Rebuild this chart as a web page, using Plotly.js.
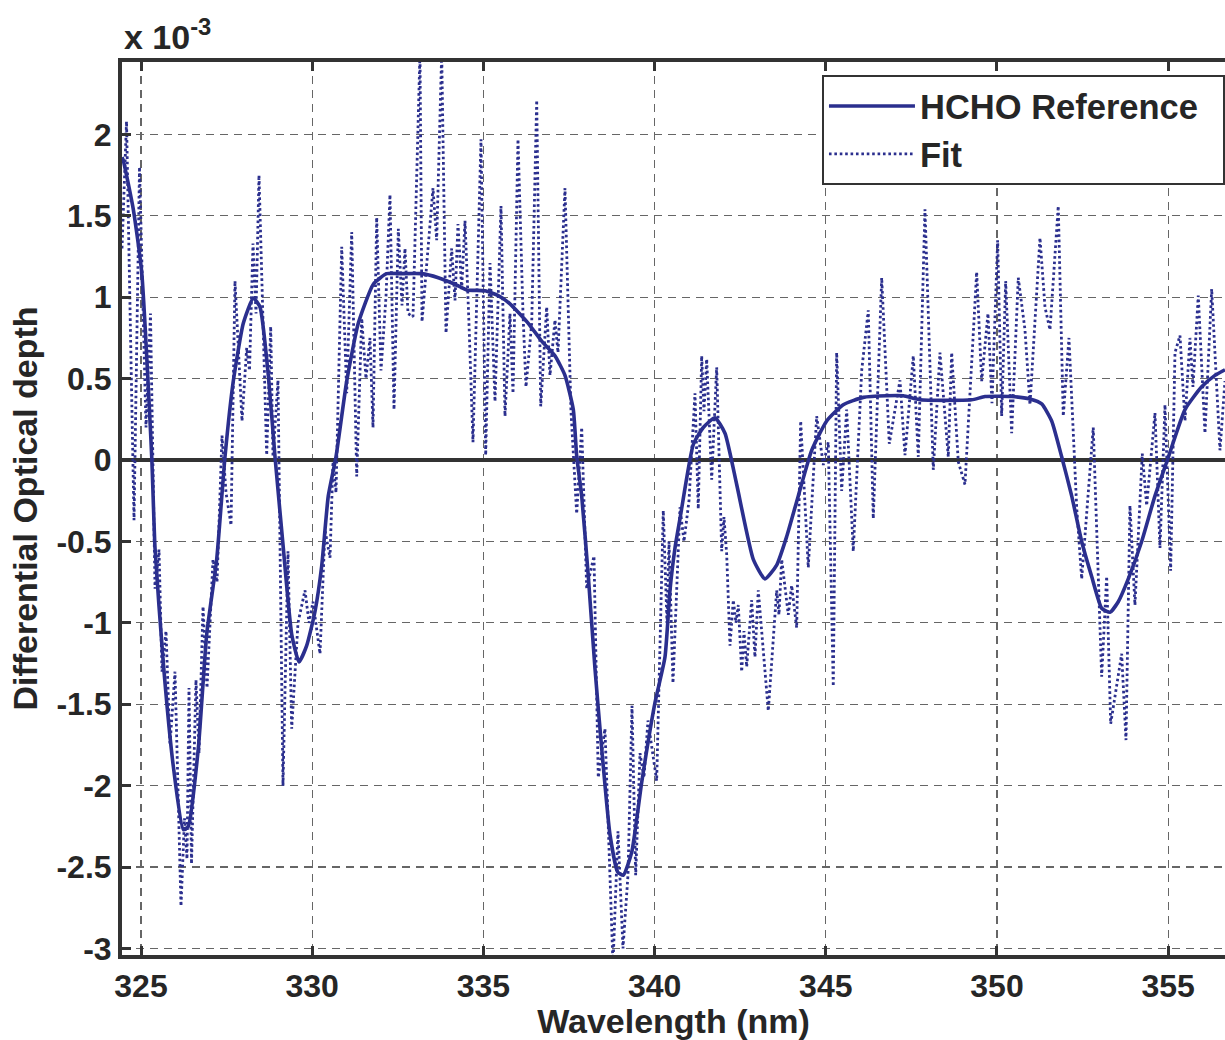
<!DOCTYPE html>
<html>
<head>
<meta charset="utf-8">
<script src="https://cdn.plot.ly/plotly-3.0.1.min.js"></script>
<style>html,body{margin:0;padding:0;background:#fff;}#chart{width:1225px;height:1040px;}</style>
</head>
<body>
<div id="chart"></div>
<script>
// Wavelength (nm) and differential optical depth (units of 1e-3)
const wavelengthRef = [324.445,324.483,324.775,325.020,325.313,325.409,325.651,325.943,326.235,326.381,326.674,326.919,327.211,327.453,327.696,327.988,328.280,328.476,328.718,328.914,329.156,329.401,329.615,329.839,330.082,330.278,330.470,330.695,331.008,331.346,331.785,332.176,332.564,333.198,333.683,334.171,334.512,335.047,335.435,335.777,336.311,336.703,337.091,337.383,337.626,337.725,337.871,338.064,338.259,338.455,338.697,338.922,339.086,339.331,339.623,340.012,340.304,340.450,340.596,340.742,341.130,341.422,341.764,342.056,342.398,342.883,343.224,343.566,343.858,344.197,344.588,345.026,345.511,346.095,346.779,347.263,347.751,349.261,349.650,350.429,350.964,351.306,351.598,351.890,352.182,352.474,352.766,353.058,353.300,353.543,353.835,354.226,354.615,354.985,355.491,355.979,356.367,356.659];
const odRef = [1.86,1.84,1.54,1.155,0.02,-0.54,-1.245,-1.88,-2.27,-2.25,-1.77,-1.07,-0.61,0.02,0.485,0.84,0.995,0.94,0.52,0.02,-0.54,-1.07,-1.24,-1.14,-0.93,-0.65,-0.22,0.02,0.485,0.84,1.08,1.145,1.145,1.145,1.12,1.08,1.045,1.04,1.01,0.96,0.84,0.73,0.64,0.52,0.31,0.025,-0.22,-0.715,-1.28,-1.77,-2.30,-2.53,-2.55,-2.41,-1.98,-1.49,-1.21,-0.80,-0.54,-0.36,0.095,0.20,0.26,0.165,-0.15,-0.61,-0.73,-0.645,-0.47,-0.22,0.06,0.24,0.34,0.385,0.395,0.395,0.37,0.37,0.39,0.39,0.375,0.345,0.24,0.02,-0.22,-0.50,-0.715,-0.91,-0.935,-0.87,-0.73,-0.50,-0.22,0.005,0.31,0.45,0.52,0.555];

const wavelengthFit = [324.445,324.577,324.796,324.956,325.146,325.277,325.409,325.526,325.613,325.730,325.847,325.993,326.168,326.270,326.343,326.402,326.475,326.606,326.694,326.811,326.928,327.103,327.220,327.366,327.483,327.629,327.745,327.950,328.087,328.169,328.271,328.359,328.446,328.671,328.788,328.855,329.001,329.147,329.293,329.401,329.585,329.790,329.907,330.023,330.228,330.374,330.520,330.608,330.695,330.862,331.008,331.154,331.300,331.446,331.571,331.688,331.776,331.884,332.009,332.155,332.272,332.389,332.515,332.623,332.710,332.798,332.944,333.148,333.207,333.382,333.528,333.636,333.782,333.908,334.074,334.171,334.258,334.366,334.463,334.579,334.696,334.930,335.067,335.193,335.339,335.514,335.631,335.777,335.865,336.011,336.157,336.244,336.411,336.557,336.674,336.849,336.945,337.091,337.179,337.383,337.558,337.725,337.871,338.017,338.230,338.355,338.551,338.785,338.931,339.077,339.223,339.340,339.448,339.574,339.690,339.807,340.061,340.254,340.362,340.421,340.537,340.742,340.859,341.005,341.180,341.276,341.376,341.443,341.522,341.668,341.814,341.960,342.027,342.106,342.202,342.299,342.377,342.445,342.544,342.611,342.690,342.836,342.932,343.029,343.321,343.566,343.633,343.712,343.905,344.004,344.150,344.267,344.489,344.734,344.927,345.073,345.219,345.318,345.464,345.610,345.803,346.049,346.241,346.387,346.633,346.855,347.167,347.313,347.556,347.702,347.897,348.140,348.335,348.578,348.677,348.870,349.065,349.407,349.553,349.737,349.854,350.020,350.137,350.254,350.429,350.622,350.818,350.964,351.256,351.402,351.548,351.790,351.936,352.103,352.228,352.328,352.474,352.620,352.812,353.058,353.204,353.321,353.446,353.642,353.768,353.884,354.030,354.244,354.372,354.615,354.761,354.907,355.073,355.199,355.345,355.491,355.637,355.724,355.879,356.075,356.271,356.513,356.659];
const odFit = [1.30,2.08,-0.37,1.80,0.20,0.90,-0.79,-0.55,-1.30,-1.05,-1.75,-1.30,-2.74,-2.20,-2.45,-1.40,-2.48,-1.35,-1.80,-0.90,-1.40,-0.61,-0.75,0.15,-0.20,-0.40,1.10,0.24,0.69,0.55,1.33,0.90,1.75,0.03,0.82,0.02,0.49,-2.00,-0.56,-1.65,-1.00,-0.80,-1.00,-0.87,-1.19,-0.43,-0.60,-0.01,-0.20,1.31,0.41,1.40,-0.10,0.87,0.50,0.75,0.20,1.49,0.55,1.00,1.63,0.31,1.42,0.95,1.30,0.90,0.88,2.50,0.85,1.30,1.67,1.35,2.50,0.78,1.30,0.98,1.45,1.05,1.47,0.84,0.11,1.97,0.03,1.21,0.36,1.56,0.27,0.90,0.41,1.97,0.90,0.45,0.84,2.21,0.33,0.94,0.52,0.86,0.66,1.67,0.30,-0.33,0.20,-0.79,-0.59,-1.95,-1.65,-3.10,-2.28,-3.00,-2.55,-1.51,-2.55,-1.80,-1.95,-1.60,-1.97,-0.31,-1.00,-0.50,-1.37,-0.29,-0.50,-0.25,0.41,-0.30,0.64,0.30,0.62,-0.12,0.57,-0.56,-0.35,-0.58,-1.14,-0.86,-1.00,-0.89,-1.30,-1.05,-1.27,-0.86,-1.21,-0.80,-1.54,-0.80,-0.95,-0.61,-0.95,-0.77,-1.03,0.24,-0.66,0.27,-0.03,0.11,-1.39,0.66,-0.19,0.31,-0.56,0.55,0.92,-0.36,1.12,0.10,0.49,0.03,0.64,0.02,1.54,-0.06,0.66,0.02,0.66,-0.01,-0.15,1.155,0.485,0.90,0.35,1.35,0.27,1.10,0.165,1.12,0.80,0.34,1.365,0.94,0.80,1.56,0.27,0.75,0.165,-0.29,-0.73,-0.31,0.20,-1.33,-0.715,-1.62,-1.46,-1.19,-1.72,-0.28,-0.89,0.04,-0.28,0.29,-0.54,0.34,-0.68,0.66,0.765,0.24,0.75,0.45,1.01,0.165,1.05,0.06,0.485];

const xTickVals = [325,330,335,340,345,350,355];
const yTickVals = [-3,-2.5,-2,-1.5,-1,-0.5,0,0.5,1,1.5,2];
const yTickText = ['-3','-2.5','-2','-1.5','-1','-0.5','0','0.5','1','1.5','2'];

const lineColor = '#2b2f8e';
const textColor = '#262626';
const fontFam = 'Liberation Sans, Arial, Helvetica, sans-serif';

const traces = [
  {x: wavelengthRef, y: odRef, name: 'HCHO Reference\u00a0\u00a0', type: 'scatter', mode: 'lines',
   line: {color: lineColor, width: 3.6, shape: 'spline', smoothing: 0.5}},
  {x: wavelengthFit, y: odFit, name: 'Fit', type: 'scatter', mode: 'lines',
   line: {color: lineColor, width: 2.8, dash: '2.6px,2.8px'}}
];

const axisCommon = {
  showline: true, linecolor: '#333', linewidth: 4,
  ticks: 'inside', ticklen: 9, tickwidth: 3, tickcolor: '#333',
  showgrid: true, gridcolor: '#666', gridwidth: 1.2, griddash: '8px,6px',
  tickfont: {family: fontFam, size: 32, color: textColor, weight: 'bold'}
};

const layout = {
  width: 1225, height: 1040,
  margin: {l: 122, r: 0, t: 62, b: 85},
  paper_bgcolor: '#fff', plot_bgcolor: '#fff',
  showlegend: true,
  legend: {x: 0.6346, y: 0.9854, xanchor: 'left', yanchor: 'top',
           bgcolor: '#fff', bordercolor: '#333', borderwidth: 2,
           itemwidth: 86,
           font: {family: fontFam, size: 34.5, color: textColor, weight: 'bold'}},
  xaxis: Object.assign({}, axisCommon, {
    range: [324.445, 356.66], tickvals: xTickVals, mirror: 'ticks', zeroline: false,
    title: {text: 'Wavelength (nm)', standoff: 4,
            font: {family: fontFam, size: 34, color: textColor, weight: 'bold'}}
  }),
  yaxis: Object.assign({}, axisCommon, {
    range: [-3.04, 2.445], tickvals: yTickVals, ticktext: yTickText, mirror: false,
    zeroline: true, zerolinecolor: '#333', zerolinewidth: 3.5,
    title: {text: 'Differential Optical depth', standoff: 10,
            font: {family: fontFam, size: 34, color: textColor, weight: 'bold'}}
  }),
  annotations: [{
    xref: 'paper', yref: 'paper', x: 0, y: 1.004, xanchor: 'left', yanchor: 'bottom',
    showarrow: false, text: 'x 10<sup>-3</sup>',
    font: {family: fontFam, size: 34, color: textColor, weight: 'bold'}
  }]
};

Plotly.newPlot('chart', traces, layout, {displayModeBar: false, staticPlot: true});
</script>
</body>
</html>
